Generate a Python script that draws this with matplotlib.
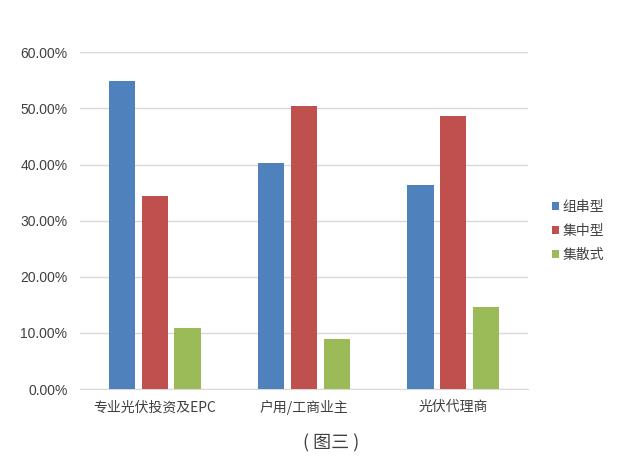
import matplotlib
matplotlib.use("Agg")
import matplotlib.pyplot as plt
import numpy as np
from matplotlib.ticker import FuncFormatter

plt.rcParams['font.family'] = ['Liberation Sans', 'Noto Sans CJK SC', 'DejaVu Sans']

categories = ["专业光伏投资及EPC", "户用/工商业主", "光伏代理商"]
series_names = ["组串型", "集中型", "集散式"]
string_vals = [54.8, 40.2, 36.4]
central_vals = [34.4, 50.5, 48.7]
distributed_vals = [10.9, 9.0, 14.6]
colors = ["#4F81BD", "#C0504D", "#9BBB59"]
yticks = [0, 10, 20, 30, 40, 50, 60]

fig = plt.figure(figsize=(6.34, 4.70), dpi=100)
ax = fig.add_axes([0.126, 0.172, 0.707, 0.717])

x = np.arange(len(categories))
w = 0.175
step = 0.22
for i, (vals, name) in enumerate(zip([string_vals, central_vals, distributed_vals], series_names)):
    ax.bar(x + (i - 1) * step, vals, width=w, color=colors[i], label=name, zorder=3)

ax.set_xlim(-0.5, 2.5)
ax.set_ylim(0, 60)
ax.set_yticks(yticks)
ax.yaxis.set_major_formatter(FuncFormatter(lambda v, p: f"{v:.2f}%"))
ax.grid(axis='y', color='#D9D9D9', linewidth=1, zorder=0)
for s in ['top', 'right', 'left']:
    ax.spines[s].set_visible(False)
ax.spines['bottom'].set_color('#D9D9D9')
ax.tick_params(axis='both', length=0, labelsize=10, colors='#404040')
ax.tick_params(axis='y', pad=9)
ax.tick_params(axis='x', pad=8)
ax.set_xticks(x)
ax.set_xticklabels(categories, fontfamily=['Noto Sans CJK SC', 'DejaVu Sans'])

leg = fig.legend(loc='upper left', bbox_to_anchor=(0.851, 0.602), frameon=False,
                 handlelength=0.5, handleheight=0.5, handletextpad=0.25,
                 labelspacing=0.72, prop={'family': 'Noto Sans CJK SC', 'size': 10})
for t in leg.get_texts():
    t.set_color('#404040')

fig.text(0.522, 0.0574, "( 图三 )", ha='center', va='center', fontsize=13,
         fontfamily='Noto Sans CJK SC', color='#404040')

fig.savefig("out.png", dpi=100, facecolor='white')
